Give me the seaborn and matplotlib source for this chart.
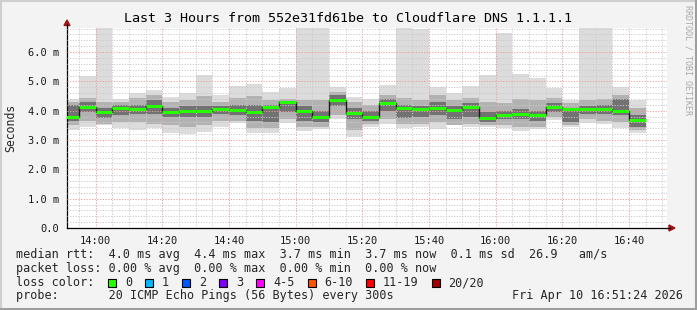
import matplotlib
matplotlib.use('Agg')
import matplotlib.pyplot as plt
import seaborn as sns
import pandas as pd
from matplotlib.lines import Line2D
from matplotlib.patches import Polygon, Rectangle

# ---------------- data (5-minute buckets, ms) ----------------
bucket_times = ["13:50", "13:55", "14:00", "14:05", "14:10", "14:15", "14:20", "14:25", "14:30",
                "14:35", "14:40", "14:45", "14:50", "14:55", "15:00", "15:05", "15:10", "15:15",
                "15:20", "15:25", "15:30", "15:35", "15:40", "15:45", "15:50", "15:55", "16:00",
                "16:05", "16:10", "16:15", "16:20", "16:25", "16:30", "16:35", "16:40"]
rtt_median = [3.80, 4.14, 3.97, 4.10, 4.06, 4.17, 3.97, 3.99, 3.99, 4.06, 4.02, 3.97, 4.14, 4.28,
              3.99, 3.80, 4.38, 3.93, 3.80, 4.26, 4.10, 4.06, 4.10, 4.02, 4.14, 3.76, 3.86, 3.90,
              3.86, 4.14, 4.05, 4.06, 4.07, 4.00, 3.69]
rtt_max = [4.40, 5.19, 7.20, 4.40, 4.59, 4.70, 4.48, 4.59, 5.22, 4.52, 4.84, 4.90, 4.63, 4.76,
           7.20, 7.20, 4.82, 4.48, 4.40, 4.88, 7.20, 6.78, 4.80, 4.61, 4.84, 5.22, 6.64, 5.25,
           5.10, 4.77, 4.35, 7.20, 7.20, 4.81, 4.35]
rtt_min = [3.34, 3.43, 3.51, 3.40, 3.34, 3.40, 3.23, 3.21, 3.28, 3.45, 3.57, 3.25, 3.23, 3.57,
           3.31, 3.38, 3.70, 3.11, 3.45, 3.53, 3.40, 3.45, 3.38, 3.51, 3.45, 3.45, 3.41, 3.31,
           3.36, 3.68, 3.45, 3.57, 3.53, 3.40, 3.23]
rtt_p90 = [4.30, 4.45, 4.30, 4.30, 4.45, 4.55, 4.30, 4.35, 4.50, 4.30, 4.45, 4.50, 4.35, 4.40,
           4.35, 4.35, 4.65, 4.30, 4.20, 4.55, 4.45, 4.35, 4.55, 4.35, 4.45, 4.30, 4.25, 4.40,
           4.35, 4.45, 4.25, 4.35, 4.40, 4.55, 4.10]
rtt_p75 = [4.20, 4.28, 4.10, 4.20, 4.20, 4.35, 4.10, 4.15, 4.15, 4.15, 4.20, 4.20, 4.20, 4.32,
           4.15, 4.00, 4.55, 4.10, 4.00, 4.40, 4.20, 4.15, 4.30, 4.15, 4.25, 3.95, 4.00, 4.05,
           4.00, 4.25, 4.10, 4.15, 4.20, 4.40, 3.85]
rtt_p25 = [3.65, 3.95, 3.75, 3.85, 3.90, 3.90, 3.80, 3.80, 3.80, 3.90, 3.85, 3.65, 3.60, 3.95,
           3.65, 3.60, 4.15, 3.70, 3.65, 4.00, 3.75, 3.80, 3.85, 3.70, 3.80, 3.60, 3.70, 3.70,
           3.65, 3.95, 3.60, 3.90, 3.90, 3.85, 3.45]
rtt_p10 = [3.50, 3.65, 3.55, 3.60, 3.60, 3.55, 3.50, 3.45, 3.50, 3.65, 3.65, 3.40, 3.40, 3.70,
           3.45, 3.45, 3.85, 3.35, 3.55, 3.70, 3.55, 3.55, 3.60, 3.50, 3.55, 3.50, 3.50, 3.45,
           3.45, 3.80, 3.50, 3.70, 3.65, 3.60, 3.35]

x_tick_labels = ["14:00", "14:20", "14:40", "15:00", "15:20", "15:40", "16:00", "16:20", "16:40"]
y_tick_values = [0, 1, 2, 3, 4, 5, 6]
y_tick_labels = ["0.0", "1.0 m", "2.0 m", "3.0 m", "4.0 m", "5.0 m", "6.0 m"]

loss_labels = ["0", "1", "2", "3", "4-5", "6-10", "11-19", "20/20"]
loss_colors = ["#26ff00", "#00b8ff", "#0059ff", "#7e00ff", "#ff00ff", "#ff5500", "#ff0000", "#a10000"]

title = "Last 3 Hours from 552e31fd61be to Cloudflare DNS 1.1.1.1"
legend_row1 = "median rtt:  4.0 ms avg  4.4 ms max  3.7 ms min  3.7 ms now  0.1 ms sd  26.9   am/s"
legend_row2 = "packet loss: 0.00 % avg  0.00 % max  0.00 % min  0.00 % now"
legend_row3 = "loss color:"
legend_row4 = "probe:       20 ICMP Echo Pings (56 Bytes) every 300s"
timestamp = "Fri Apr 10 16:51:24 2026"


def to_min(t):
    h, m = t.split(":")
    return (int(h) - 13) * 60 + int(m)


df = pd.DataFrame({
    "start": [to_min(t) for t in bucket_times],
    "median": rtt_median, "max": rtt_max, "min": rtt_min,
    "p90": rtt_p90, "p75": rtt_p75, "p25": rtt_p25, "p10": rtt_p10,
})

# ---------------- figure ----------------
W, H = 697, 310
sns.set_style("white")
plt.rcParams['font.family'] = ['DejaVu Sans Mono', 'DejaVu Sans']

fig = plt.figure(figsize=(W / 100, H / 100), dpi=100, facecolor="#f3f3f3")


def fx(px):
    return px / W


def fy(py):
    return 1 - py / H


ax = fig.add_axes([fx(67), fy(228), fx(667) - fx(67), fy(28) - fy(228)])
ax.set_facecolor("white")

x_start = 51.4   # 13:51:24
x_end = 231.4    # 16:51:24
ax.set_xlim(x_start, x_end)
ax.set_ylim(0, 6.82)

# smoke layers
layers = [("min", "max", "#dcdcdc"), ("p10", "p90", "#b2b2b2"), ("p25", "p75", "#727272")]
for lo, hi, col in layers:
    ax.bar(df["start"], df[hi] - df[lo], bottom=df[lo], width=5, align="edge",
           color=col, linewidth=0, zorder=1)

# median line (step) + green segments
sns.lineplot(data=df, x="start", y="median", drawstyle="steps-post", color="#1a1a1a",
             lw=1, estimator=None, ax=ax, zorder=4, legend=False)
ax.hlines(df["median"], df["start"], df["start"] + 5, colors=loss_colors[0], lw=2.2, zorder=5)

# grid
maj_x = [to_min(t) for t in x_tick_labels]
ax.set_xticks(maj_x)
ax.set_xticklabels(x_tick_labels)
ax.set_xticks([m for m in range(55, 232, 5) if m not in maj_x], minor=True)
ax.set_yticks(y_tick_values)
ax.set_yticklabels(y_tick_labels)
ax.set_yticks([v / 5 for v in range(1, 35) if v % 5 != 0], minor=True)
ax.set_axisbelow(False)
ax.grid(which="minor", color="#cacaca", lw=0.7, linestyle=(0, (1.2, 1.6)))
ax.grid(which="major", color="#f09a9a", lw=0.7, linestyle=(0, (1.2, 1.6)))

ax.tick_params(which="major", direction="inout", length=4, width=0.8, color="#000000",
               labelsize=7.5, pad=3.5)
ax.tick_params(which="minor", direction="inout", length=2.5, width=0.6, color="#000000")
for lab in ax.get_xticklabels() + ax.get_yticklabels():
    lab.set_color("#1a1a1a")

ax.set_xlabel("")
ax.set_ylabel("")
for s in ["top", "right"]:
    ax.spines[s].set_visible(False)
for s in ["left", "bottom"]:
    ax.spines[s].set_color("#000000")
    ax.spines[s].set_linewidth(0.9)

# axis arrows
fig.add_artist(Line2D([fx(67), fx(67)], [fy(28), fy(24)], color="black", lw=0.9))
fig.add_artist(Polygon([[fx(64), fy(25.5)], [fx(70), fy(25.5)], [fx(67), fy(20)]],
                       closed=True, color="#a01414", transform=fig.transFigure))
fig.add_artist(Line2D([fx(667), fx(670)], [fy(228), fy(228)], color="black", lw=0.9))
fig.add_artist(Polygon([[fx(669), fy(225)], [fx(669), fy(231)], [fx(675), fy(228)]],
                       closed=True, color="#a01414", transform=fig.transFigure))

# texts
fig.text(fx(348), fy(19), title, ha="center", va="center", fontsize=9.6, color="#000000")
fig.text(fx(11), fy(128), "Seconds", rotation=90, ha="center", va="center", fontsize=8.3)
fig.text(fx(688), fy(5), "RRDTOOL / TOBI OETIKER", rotation=270, ha="center", va="top",
         fontsize=6, color="#a8a8a8")

fs = 8.5
fig.text(fx(16), fy(254.5), legend_row1, ha="left", va="center", fontsize=fs)
fig.text(fx(16), fy(268.5), legend_row2, ha="left", va="center", fontsize=fs)
fig.text(fx(16), fy(282.5), legend_row3, ha="left", va="center", fontsize=fs)
fig.text(fx(16), fy(296), legend_row4, ha="left", va="center", fontsize=fs)
fig.text(fx(683), fy(296), timestamp, ha="right", va="center", fontsize=fs)

xb = 108
for lab, col in zip(loss_labels, loss_colors):
    fig.add_artist(Rectangle((fx(xb), fy(286.5)), fx(8), 8 / H, facecolor=col,
                             edgecolor="black", lw=0.8, transform=fig.transFigure))
    fig.text(fx(xb + 17), fy(282.5), lab, ha="left", va="center", fontsize=fs)
    xb += 30 + 7.1 * len(lab)

# 3D frame
fig.add_artist(Line2D([0, 1], [fy(0.5), fy(0.5)], color="#cfcfcf", lw=1.5))
fig.add_artist(Line2D([fx(0.5), fx(0.5)], [0, 1], color="#cfcfcf", lw=1.5))
fig.add_artist(Line2D([0, 1], [fy(308.5), fy(308.5)], color="#9e9e9e", lw=2.2))
fig.add_artist(Line2D([fx(695.5), fx(695.5)], [0, 1], color="#9e9e9e", lw=2.2))

fig.savefig("out.png", dpi=100, facecolor=fig.get_facecolor())
